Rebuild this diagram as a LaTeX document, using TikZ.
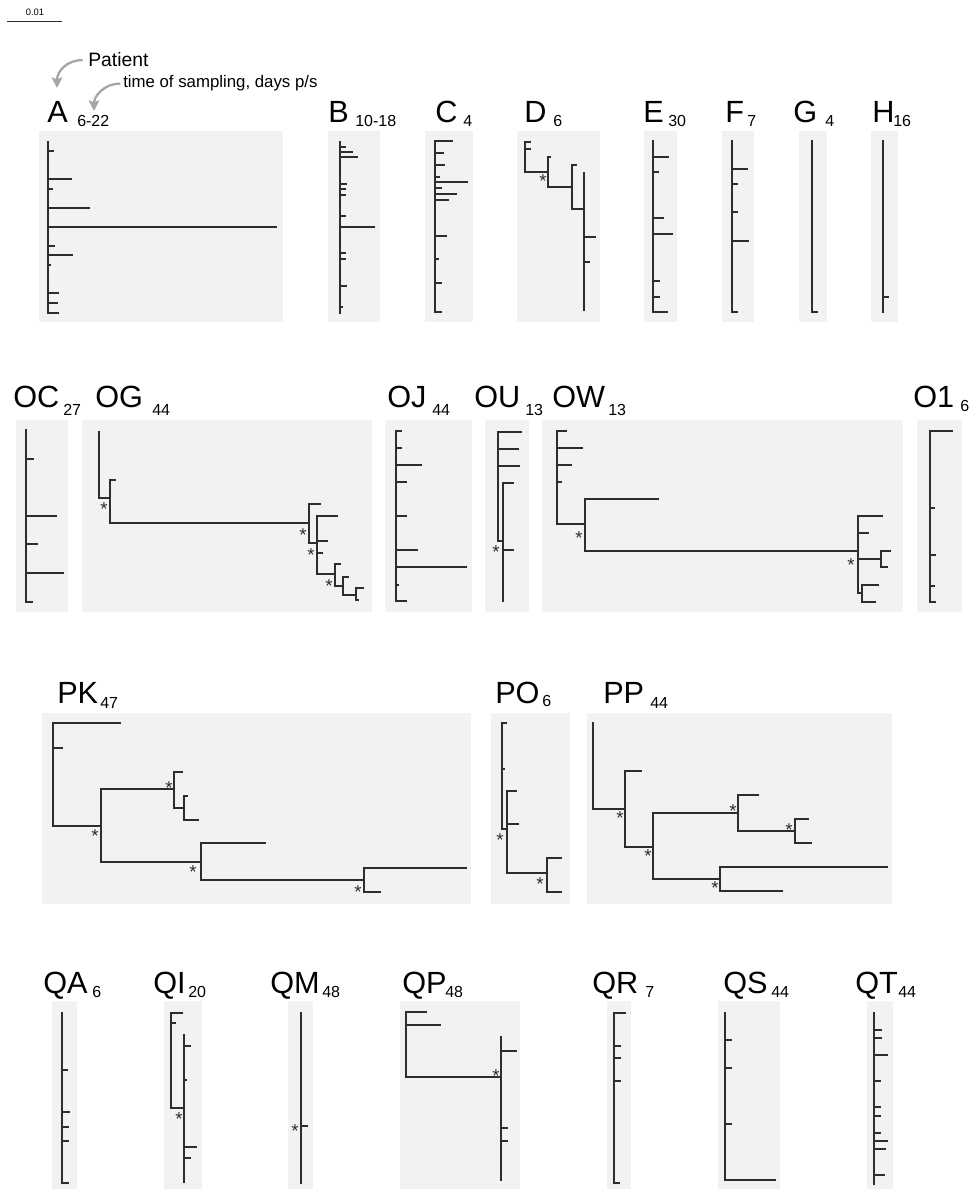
\documentclass[tikz,border=0pt]{standalone}
\usepackage{fontspec}
\setmainfont{Liberation Sans}
\usepackage{tikz}
\usetikzlibrary{positioning, arrows.meta}
\definecolor{panelgray}{RGB}{242,242,242}
\definecolor{treeink}{RGB}{45,45,45}
\definecolor{hintgray}{RGB}{165,165,165}
\tikzstyle{panel} = [fill=panelgray, draw=none]
\tikzstyle{branch} = [draw=treeink, line width=1.1pt, line cap=rect]
\tikzstyle{patient} = [anchor=base west, inner sep=0pt, text=black, font=\fontsize{23}{26}\selectfont]
\tikzstyle{days} = [anchor=base west, inner sep=0pt, text=black, font=\fontsize{12}{14}\selectfont]
\tikzstyle{note} = [anchor=base west, inner sep=0pt, text=black]
\tikzstyle{support} = [anchor=north, inner sep=0pt, yshift=2pt, text=treeink, font=\fontsize{14}{14}\selectfont]
\tikzstyle{arrow} = [line width=1.7pt, draw=hintgray, -{Stealth[length=8pt,width=8pt,inset=1.5pt]}]

\begin{document}
\begin{tikzpicture}[x=0.75pt, y=-0.75pt]
		\useasboundingbox (0,0) rectangle (970,1191);
		%标尺
		\node (scale) [note, anchor=base, font=\fontsize{7}{8}\selectfont] at (35,16) {0.01};
		\draw [treeink, line width=0.6pt] (7,21) -- (62,21);
		
		%说明文字
		\node (note1) [note, font=\fontsize{14.5}{16}\selectfont] at (88,67) {Patient};
		\node (note2) [note, font=\fontsize{12.6}{14}\selectfont] at (123,88) {time of sampling, days p/s};
		\coordinate (tip1) at (57,88);
		\coordinate (tip2) at (94,111);
		\draw [arrow, shorten <=4pt] (note1.west) .. controls +(-22,0) and +(0,-16) .. (tip1);
		\draw [arrow, shorten <=2pt] (note2.west) .. controls +(-20,0) and +(0,-14) .. (tip2);
		
		%灰色底框
		\fill [panel] (39,131) rectangle (283,322);
		\fill [panel] (328,131) rectangle (380,322);
		\fill [panel] (425,131) rectangle (473,322);
		\fill [panel] (517,131) rectangle (600,322);
		\fill [panel] (644,131) rectangle (677,322);
		\fill [panel] (722,131) rectangle (754,322);
		\fill [panel] (799,131) rectangle (827,322);
		\fill [panel] (871,131) rectangle (898,322);
		\fill [panel] (16,420) rectangle (68,612);
		\fill [panel] (82,420) rectangle (372,612);
		\fill [panel] (385,420) rectangle (472,612);
		\fill [panel] (485,420) rectangle (529,612);
		\fill [panel] (542,420) rectangle (903,612);
		\fill [panel] (917,420) rectangle (962,612);
		\fill [panel] (42,713) rectangle (471,904);
		\fill [panel] (491,713) rectangle (570,904);
		\fill [panel] (587,713) rectangle (892,904);
		\fill [panel] (52,1001) rectangle (77,1189);
		\fill [panel] (164,1001) rectangle (202,1189);
		\fill [panel] (288,1001) rectangle (313,1189);
		\fill [panel] (400,1001) rectangle (520,1189);
		\fill [panel] (607,1001) rectangle (631,1189);
		\fill [panel] (718,1001) rectangle (780,1189);
		\fill [panel] (867,1001) rectangle (893,1189);
		
		%第一行
		\node (pA) [patient] at (47,123) {A};
		\node (tA) [days] at (77,127) {6-22};
		\node (pB) [patient] at (328,123) {B};
		\node (tB) [days] at (355,127) {10-18};
		\node (pC) [patient] at (435,123) {C};
		\node (tC) [days] at (463,127) {4};
		\node (pD) [patient] at (524,123) {D};
		\node (tD) [days] at (553,127) {6};
		\node (pE) [patient] at (643,123) {E};
		\node (tE) [days] at (668,127) {30};
		\node (pF) [patient] at (725,123) {F};
		\node (tF) [days] at (747,127) {7};
		\node (pG) [patient] at (793,123) {G};
		\node (tG) [days] at (825,127) {4};
		\node (pH) [patient] at (872,123) {H};
		\node (tH) [days] at (893,127) {16};
		
		\draw [branch] (48,142) -- (48,313) (48,151) -- (53,151) (48,179) -- (71,179) (48,189) -- (52,189)
			(48,208) -- (89,208) (48,227) -- (276,227) (48,246) -- (54,246) (48,255) -- (72,255)
			(48,265) -- (50,265) (48,293) -- (58,293) (48,303) -- (57,303) (48,313) -- (58,313);
		\draw [branch] (340,142) -- (340,313) (340,147) -- (345,147) (340,152) -- (352,152) (340,157) -- (357,157)
			(340,184) -- (346,184) (340,189) -- (345,189) (340,195) -- (345,195) (340,216) -- (345,216)
			(340,227) -- (374,227) (340,253) -- (345,253) (340,259) -- (345,259) (340,286) -- (346,286)
			(340,307) -- (342,307);
		\draw [branch] (435,141) -- (435,312) (435,141) -- (452,141) (435,153) -- (443,153) (435,165) -- (444,165)
			(435,177) -- (439,177) (435,182) -- (467,182) (435,188) -- (441,188) (435,194) -- (456,194)
			(435,200) -- (448,200) (435,236) -- (446,236) (435,259) -- (438,259) (435,283) -- (441,283)
			(435,312) -- (441,312);
		\draw [branch] (525,142) -- (525,172) -- (548,172) (525,142) -- (530,142) (525,149) -- (530,149)
			(548,157) -- (548,187) -- (572,187) (548,157) -- (550,157)
			(572,165) -- (572,209) -- (584,209) (572,165) -- (576,165)
			(584,173) -- (584,310) (584,237) -- (595,237) (584,262) -- (589,262);
		\node (sD) [support] at (543,177) {*};
		\draw [branch] (653,141) -- (653,312) -- (667,312) (653,157) -- (668,157) (653,172) -- (658,172)
			(653,218) -- (663,218) (653,234) -- (672,234) (653,281) -- (659,281) (653,297) -- (659,297);
		\draw [branch] (732,141) -- (732,312) -- (737,312) (732,169) -- (747,169) (732,184) -- (737,184)
			(732,212) -- (737,212) (732,241) -- (748,241);
		\draw [branch] (812,141) -- (812,312) -- (817,312);
		\draw [branch] (883,141) -- (883,312) (883,297) -- (888,297);
		
		%第二行
		\node (pOC) [patient] at (13,407) {OC};
		\node (tOC) [days] at (63,415) {27};
		\node (pOG) [patient] at (95,407) {OG};
		\node (tOG) [days] at (152,415) {44};
		\node (pOJ) [patient] at (387,407) {OJ};
		\node (tOJ) [days] at (432,415) {44};
		\node (pOU) [patient] at (474,407) {OU};
		\node (tOU) [days] at (525,415) {13};
		\node (pOW) [patient] at (552,407) {OW};
		\node (tOW) [days] at (608,415) {13};
		\node (pO1) [patient] at (913,407) {O1};
		\node (tO1) [days] at (960,411) {6};
		
		\draw [branch] (26,430) -- (26,602) -- (32,602) (26,459) -- (33,459) (26,516) -- (56,516)
			(26,544) -- (37,544) (26,573) -- (63,573);
		\draw [branch] (99,432) -- (99,498) -- (110,498) (110,480) -- (110,523) -- (309,523) (110,480) -- (115,480)
			(309,504) -- (309,543) -- (317,543) (309,504) -- (320,504)
			(317,516) -- (317,574) -- (335,574) (317,516) -- (337,516) (317,541) -- (327,541) (317,553) -- (322,553)
			(335,564) -- (335,586) -- (343,586) (335,564) -- (340,564)
			(343,577) -- (343,595) -- (356,595) (343,577) -- (348,577)
			(356,588) -- (356,600) -- (358,600) (356,588) -- (363,588);
		\node (sOG1) [support] at (104,505) {*};
		\node (sOG2) [support] at (303,531) {*};
		\node (sOG3) [support] at (311,551) {*};
		\node (sOG4) [support] at (329,582) {*};
		\draw [branch] (396,431) -- (396,601) -- (406,601) (396,431) -- (401,431) (396,448) -- (401,448)
			(396,465) -- (421,465) (396,482) -- (406,482) (396,516) -- (406,516) (396,550) -- (417,550)
			(396,567) -- (466,567) (396,585) -- (398,585);
		\draw [branch] (498,432) -- (498,541) -- (503,541) (498,432) -- (521,432) (498,449) -- (518,449)
			(498,466) -- (519,466) (503,483) -- (503,601) (503,483) -- (513,483) (503,550) -- (513,550);
		\node (sOU) [support] at (496,548) {*};
		\draw [branch] (557,431) -- (557,524) -- (585,524) (557,431) -- (566,431) (557,448) -- (582,448)
			(557,465) -- (571,465) (557,482) -- (561,482)
			(585,499) -- (585,551) -- (858,551) (585,499) -- (658,499)
			(858,516) -- (858,593) -- (862,593) (858,516) -- (882,516) (858,533) -- (868,533) (858,559) -- (881,559)
			(881,551) -- (881,567) (881,551) -- (890,551) (881,567) -- (887,567)
			(862,585) -- (862,602) (862,585) -- (878,585) (862,602) -- (875,602);
		\node (sOW1) [support] at (579,534) {*};
		\node (sOW2) [support] at (851,561) {*};
		\draw [branch] (930,431) -- (930,602) -- (935,602) (930,431) -- (952,431) (930,508) -- (934,508)
			(930,555) -- (935,555) (930,586) -- (934,586);
		
		%第三行
		\node (pPK) [patient] at (57,703) {PK};
		\node (tPK) [days] at (100,708) {47};
		\node (pPO) [patient] at (495,703) {PO};
		\node (tPO) [days] at (542,706) {6};
		\node (pPP) [patient] at (603,703) {PP};
		\node (tPP) [days] at (650,708) {44};
		
		\draw [branch] (53,723) -- (53,826) -- (101,826) (53,723) -- (120,723) (53,748) -- (62,748)
			(101,789) -- (101,862) -- (201,862) (101,789) -- (174,789)
			(174,772) -- (174,808) -- (184,808) (174,772) -- (182,772)
			(184,796) -- (184,820) -- (198,820) (184,796) -- (187,796)
			(201,843) -- (201,880) -- (364,880) (201,843) -- (265,843)
			(364,868) -- (364,892) -- (380,892) (364,868) -- (466,868);
		\node (sPK1) [support] at (95,832) {*};
		\node (sPK2) [support] at (169,784) {*};
		\node (sPK3) [support] at (193,868) {*};
		\node (sPK4) [support] at (358,888) {*};
		\draw [branch] (502,723) -- (502,829) -- (507,829) (502,723) -- (506,723) (502,769) -- (504,769)
			(507,791) -- (507,873) -- (547,873) (507,791) -- (516,791) (507,824) -- (518,824)
			(547,858) -- (547,892) (547,858) -- (561,858) (547,892) -- (561,892);
		\node (sPO1) [support] at (500,836) {*};
		\node (sPO2) [support] at (540,880) {*};
		\draw [branch] (593,723) -- (593,809) -- (625,809)
			(625,771) -- (625,847) -- (653,847) (625,771) -- (641,771)
			(653,813) -- (653,879) -- (720,879) (653,813) -- (738,813)
			(738,795) -- (738,831) -- (795,831) (738,795) -- (758,795)
			(795,819) -- (795,843) (795,819) -- (808,819) (795,843) -- (811,843)
			(720,867) -- (720,891) (720,867) -- (887,867) (720,891) -- (782,891);
		\node (sPP1) [support] at (620,814) {*};
		\node (sPP2) [support] at (648,852) {*};
		\node (sPP3) [support] at (733,807) {*};
		\node (sPP4) [support] at (789,826) {*};
		\node (sPP5) [support] at (715,884) {*};
		
		%第四行
		\node (pQA) [patient] at (43,993) {QA};
		\node (tQA) [days] at (92,997) {6};
		\node (pQI) [patient] at (153,993) {QI};
		\node (tQI) [days] at (188,997) {20};
		\node (pQM) [patient] at (270,993) {QM};
		\node (tQM) [days] at (322,997) {48};
		\node (pQP) [patient] at (402,993) {QP};
		\node (tQP) [days] at (445,997) {48};
		\node (pQR) [patient] at (592,993) {QR};
		\node (tQR) [days] at (645,997) {7};
		\node (pQS) [patient] at (723,993) {QS};
		\node (tQS) [days] at (771,997) {44};
		\node (pQT) [patient] at (855,993) {QT};
		\node (tQT) [days] at (898,997) {44};
		
		\draw [branch] (62,1013) -- (62,1183) -- (68,1183) (62,1070) -- (67,1070) (62,1112) -- (69,1112)
			(62,1127) -- (68,1127) (62,1141) -- (68,1141);
		\draw [branch] (171,1013) -- (171,1108) -- (184,1108) (171,1013) -- (182,1013) (171,1023) -- (175,1023)
			(184,1035) -- (184,1182) (184,1046) -- (190,1046) (184,1080) -- (186,1080)
			(184,1147) -- (196,1147) (184,1158) -- (190,1158);
		\node (sQI) [support] at (179,1115) {*};
		\draw [branch] (301,1013) -- (301,1183) (301,1126) -- (307,1126);
		\node (sQM) [support] at (295,1127) {*};
		\draw [branch] (406,1012) -- (406,1077) -- (501,1077) (406,1012) -- (426,1012) (406,1025) -- (440,1025)
			(501,1037) -- (501,1180) (501,1051) -- (516,1051) (501,1128) -- (507,1128) (501,1141) -- (507,1141);
		\node (sQP) [support] at (496,1072) {*};
		\draw [branch] (614,1013) -- (614,1183) -- (619,1183) (614,1013) -- (625,1013) (614,1046) -- (620,1046)
			(614,1058) -- (620,1058) (614,1081) -- (620,1081);
		\draw [branch] (725,1013) -- (725,1180) -- (775,1180) (725,1040) -- (731,1040) (725,1068) -- (731,1068)
			(725,1124) -- (731,1124);
		\draw [branch] (874,1013) -- (874,1184) (874,1030) -- (881,1030) (874,1038) -- (881,1038)
			(874,1055) -- (887,1055) (874,1081) -- (880,1081) (874,1107) -- (880,1107) (874,1116) -- (880,1116)
			(874,1133) -- (880,1133) (874,1141) -- (887,1141) (874,1149) -- (885,1149) (874,1175) -- (884,1175);
	\end{tikzpicture}
\end{document}
